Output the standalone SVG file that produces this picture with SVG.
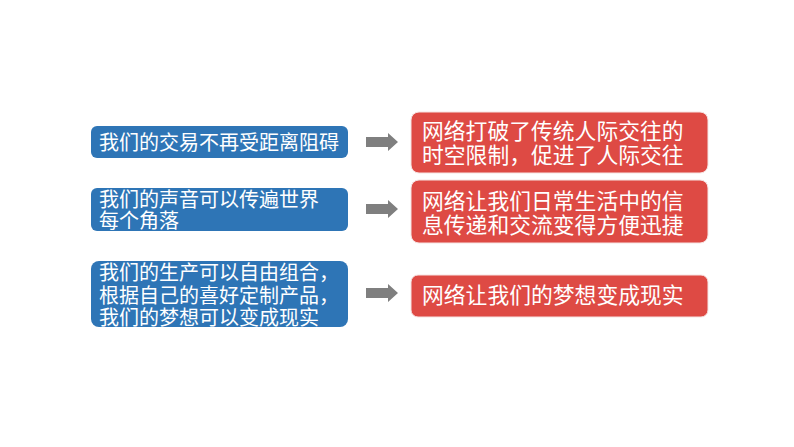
<svg xmlns="http://www.w3.org/2000/svg" width="794" height="447" viewBox="0 0 794 447">
<style>
.b{fill:#2E75B6;}
.r{fill:#DE4A44;stroke:#F6E3E2;stroke-width:1;}
.t{fill:#fff;font-family:"Liberation Sans","Noto Sans CJK SC",sans-serif;}
.tb{font-size:20px;}
.tr{font-size:21.8px;}
.a{fill:#7F7F7F;}
</style>
<rect width="794" height="447" fill="#fff"/>
<g id="b1"><rect class="b" x="91" y="126" width="257" height="32" rx="6"/><text class="t tb" x="99" y="150">我们的交易不再受距离阻碍</text></g>
<g id="b2"><rect class="b" x="91" y="188" width="257" height="43" rx="6"/><text class="t tb" x="99" y="207">我们的声音可以传遍世界</text><text class="t tb" x="99" y="228">每个角落</text></g>
<g id="b3"><rect class="b" x="91" y="261" width="257" height="66" rx="8"/><text class="t tb" x="99" y="280">我们的生产可以自由组合，</text><text class="t tb" x="99" y="303">根据自己的喜好定制产品，</text><text class="t tb" x="99" y="325">我们的梦想可以变成现实</text></g>
<g id="r1"><rect class="r" x="411" y="112" width="297" height="61" rx="8"/><text class="t tr" x="422" y="139">网络打破了传统人际交往的</text><text class="t tr" x="422" y="163">时空限制，促进了人际交往</text></g>
<g id="r2"><rect class="r" x="411" y="180" width="297" height="63" rx="8"/><text class="t tr" x="422" y="209">网络让我们日常生活中的信</text><text class="t tr" x="422" y="233">息传递和交流变得方便迅捷</text></g>
<g id="r3"><rect class="r" x="411" y="275" width="297" height="42" rx="7"/><text class="t tr" x="422" y="303">网络让我们的梦想变成现实</text></g>
<g id="connectors">
<path class="a" d="M366,137H388V133L398,142L388,151V147H366Z"/>
<path class="a" d="M366,204H388V200L398,209L388,218V214H366Z"/>
<path class="a" d="M366,288H388V284L398,293L388,302V298H366Z"/>
</g>
</svg>
